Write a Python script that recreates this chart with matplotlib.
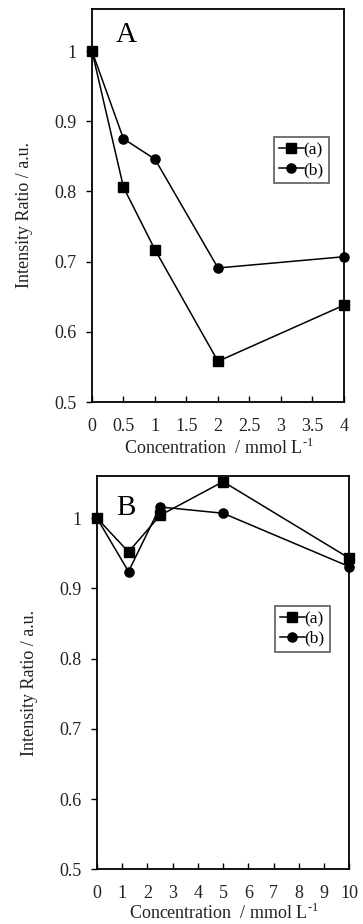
import matplotlib
matplotlib.use("Agg")
import matplotlib.pyplot as plt
from matplotlib.ticker import FuncFormatter, MultipleLocator

plt.rcParams['font.family'] = ['Liberation Serif', 'DejaVu Serif']
plt.rcParams['mathtext.fontset'] = 'custom'
plt.rcParams['mathtext.rm'] = 'Liberation Serif'

# Panel A data
conc_A = [0, 0.5, 1, 2, 4]
a_A = [1.0, 0.806, 0.717, 0.558, 0.638]
b_A = [1.0, 0.875, 0.846, 0.691, 0.707]

# Panel B data
conc_B = [0, 1.25, 2.5, 5, 10]
a_B = [1.0, 0.952, 1.004, 1.052, 0.943]
b_B = [1.0, 0.924, 1.016, 1.007, 0.931]

series_labels = ['(a)', '(b)']
ylabel = 'Intensity Ratio / a.u.'
xlabel = 'Concentration  / mmol L$^{\\mathregular{\u2010}1}$'

fig = plt.figure(figsize=(3.63, 9.24), dpi=100)
axA = fig.add_axes([0.2534, 0.5649, 0.6942, 0.4254])
axB = fig.add_axes([0.2672, 0.0592, 0.6950, 0.4256])

fmt = FuncFormatter(lambda v, p: '%g' % round(v, 3))

def style(ax, xmax, xstep, conc, a, b, letter, lx, ly, leg_anchor, ylab_y, xlab_y):
    ax.plot(conc, a, '-', color='black', marker='s', markersize=7.0, lw=1.1,
            clip_on=False, zorder=3, label=series_labels[0])
    ax.plot(conc, b, '-', color='black', marker='o', markersize=6.6, lw=1.1,
            clip_on=False, zorder=3, label=series_labels[1])
    ax.set_xlim(0, xmax)
    ax.set_ylim(0.5, 1.06)
    ax.xaxis.set_major_locator(MultipleLocator(xstep))
    ax.yaxis.set_major_locator(MultipleLocator(0.1))
    ax.xaxis.set_major_formatter(fmt)
    ax.yaxis.set_major_formatter(fmt)
    ax.tick_params(axis='x', direction='in', length=4, width=1, labelsize=13,
                   pad=11.5, labelcolor='#222222')
    ax.tick_params(axis='y', direction='out', length=4, width=1, labelsize=13,
                   pad=7, labelcolor='#222222')
    for s in ax.spines.values():
        s.set_linewidth(1.3)
    ax.set_ylabel(ylabel, fontsize=13, color='#222222')
    ax.yaxis.set_label_coords(-0.266, ylab_y)
    ax.set_xlabel(xlabel, fontsize=13, color='#222222')
    ax.xaxis.set_label_coords(0.502, xlab_y)
    ax.xaxis.label.set_va('center')
    ax.yaxis.label.set_va('center')
    ax.text(lx, ly, letter, transform=ax.transAxes, fontsize=21,
            ha='left', va='center')
    leg = ax.legend(loc='upper right', bbox_to_anchor=leg_anchor, fontsize=12.5,
                    handlelength=1.4, handletextpad=0.0, borderpad=0.3,
                    labelspacing=0.2, frameon=True, fancybox=False,
                    borderaxespad=0)
    leg.get_frame().set_edgecolor('#333333')
    leg.get_frame().set_linewidth(1.2)

style(axA, 4, 0.5, conc_A, a_A, b_A, 'A', 0.095, 0.935, (0.94, 0.674), 0.476, -0.118)
style(axB, 10, 1, conc_B, a_B, b_B, 'B', 0.075, 0.92, (0.923, 0.67), 0.474, -0.112)

fig.savefig('out.png', dpi=100)
